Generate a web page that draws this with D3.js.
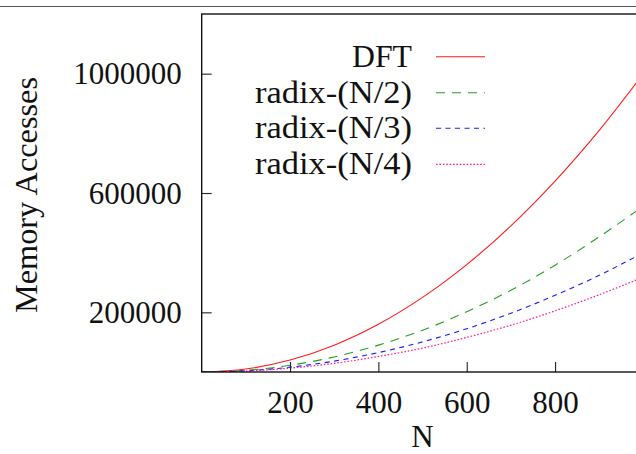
<!DOCTYPE html>
<html>
<head>
<meta charset="utf-8">
<script src="https://cdn.jsdelivr.net/npm/d3@7"></script>
<style>
  html, body { margin: 0; padding: 0; background: #fff; overflow: hidden; }
  svg { display: block; }
  text { font-family: "Liberation Serif", "Times New Roman", serif; fill: #111; }
</style>
</head>
<body>
<svg id="chart" width="636" height="454"></svg>
<script>
// Problem size N (sample points along each curve)
const sizes = [0, 100, 200, 300, 400, 500, 600, 700, 800, 900, 1000];

// Memory accesses per algorithm
const dftValues    = [0, 10000, 40000, 90000, 160000, 250000, 360000, 490000, 640000, 810000, 1000000];
const radix2Values = [0, 5600, 22500, 50500, 90000, 140000, 202000, 274000, 358000, 453000, 556000];
const radix3Values = [0, 4100, 16200, 36500, 65000, 101000, 145000, 197000, 257000, 324000, 400000];
const radix4Values = [0, 3200, 13000, 29000, 52000, 80000, 116000, 157000, 205000, 259000, 318000];

const seriesNames = ["DFT", "radix-(N/2)", "radix-(N/3)", "radix-(N/4)"];

// Axis ticks
const xTicks = [200, 400, 600, 800];
const yTicks = [200000, 600000, 1000000];

const svg = d3.select("#chart");

const x = d3.scaleLinear().domain([0, 1000]).range([201.7, 643.4]);
const y = d3.scaleLinear().domain([0, 1200000]).range([372, 14]);

const styles = [
  { color: "#ff1a1a", dash: null,      width: 1.1 },
  { color: "#22a022", dash: "9,7",     width: 1.1 },
  { color: "#1a1aff", dash: "5,4.5",   width: 1.1 },
  { color: "#ff1a9a", dash: "1.6,1.8", width: 1.2 }
];
const allValues = [dftValues, radix2Values, radix3Values, radix4Values];

// Page rule above the figure
svg.append("line")
  .attr("x1", 0).attr("x2", 636).attr("y1", 6.5).attr("y2", 6.5)
  .attr("stroke", "#555").attr("stroke-width", 1.2);

// Plot area clip
svg.append("clipPath").attr("id", "plot-clip")
  .append("rect")
  .attr("x", x(0)).attr("y", y(1200000))
  .attr("width", x(1000) - x(0)).attr("height", y(0) - y(1200000));

// Curves
const line = d3.line()
  .x((d, i) => x(sizes[i]))
  .y(d => y(d))
  .curve(d3.curveCatmullRom);

const curves = svg.append("g").attr("clip-path", "url(#plot-clip)");
allValues.forEach((vals, k) => {
  curves.append("path")
    .datum(vals)
    .attr("d", line)
    .attr("fill", "none")
    .attr("stroke", styles[k].color)
    .attr("stroke-width", styles[k].width)
    .attr("stroke-dasharray", styles[k].dash);
});

// Axes with inward ticks
const xAxis = d3.axisBottom(x).tickValues(xTicks).tickSize(-10).tickPadding(0).tickFormat(d3.format("d"));
const yAxis = d3.axisLeft(y).tickValues(yTicks).tickSize(-10).tickPadding(0).tickFormat(d3.format("d"));

const gx = svg.append("g").attr("transform", `translate(0,${y(0)})`).call(xAxis);
const gy = svg.append("g").attr("transform", `translate(${x(0)},0)`).call(yAxis);
[gx, gy].forEach(g => {
  g.select(".domain").remove();
  g.selectAll(".tick line").attr("stroke", "#222").attr("stroke-width", 1.1);
  g.selectAll(".tick text").style("font-size", "31px").attr("fill", "#111");
});
gx.selectAll(".tick text").attr("y", 41).attr("dy", null);
gy.selectAll(".tick text").attr("x", -20).attr("dy", "0.33em");

// Frame
svg.append("rect")
  .attr("x", x(0)).attr("y", y(1200000))
  .attr("width", x(1000) - x(0)).attr("height", y(0) - y(1200000))
  .attr("fill", "none").attr("stroke", "#000").attr("stroke-width", 1.3);

// Axis titles
svg.append("text")
  .attr("x", (x(0) + x(1000)) / 2).attr("y", 447)
  .attr("text-anchor", "middle")
  .style("font-size", "31px")
  .text("N");

svg.append("text")
  .attr("transform", `translate(37,195) rotate(-90)`)
  .attr("text-anchor", "middle")
  .attr("textLength", 236).attr("lengthAdjust", "spacingAndGlyphs")
  .style("font-size", "31px")
  .text("Memory Accesses");

// Legend
const legendRows = [56.7, 92.7, 128.3, 164.3];
const legendWidths = [60, 157, 157, 157];
const legend = svg.append("g");
seriesNames.forEach((name, k) => {
  legend.append("text")
    .attr("x", 412).attr("y", legendRows[k] + 10)
    .attr("text-anchor", "end")
    .attr("textLength", legendWidths[k]).attr("lengthAdjust", "spacingAndGlyphs")
    .style("font-size", "31px")
    .text(name);
  legend.append("line")
    .attr("x1", 436).attr("x2", 485)
    .attr("y1", legendRows[k]).attr("y2", legendRows[k])
    .attr("stroke", styles[k].color)
    .attr("stroke-width", styles[k].width)
    .attr("stroke-dasharray", styles[k].dash);
});
</script>
</body>
</html>
